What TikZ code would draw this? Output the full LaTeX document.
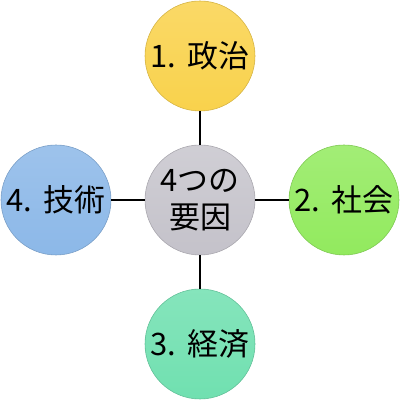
\documentclass[tikz,border=0pt]{standalone}
\usepackage{fontspec}
\setmainfont{Noto Sans CJK JP}
\usetikzlibrary{positioning}
\definecolor{polyellow}{HTML}{F9D24C}
\definecolor{socgreen}{HTML}{92EA5E}
\definecolor{ecoteal}{HTML}{70E0B0}
\definecolor{techblue}{HTML}{8CB8E8}
\definecolor{coregray}{HTML}{C4C2CA}
\tikzset{
    factor/.style={
        circle,
        minimum size=2.75cm,
        inner sep=0pt,
        align=center,
        font=\fontsize{22}{26}\selectfont
    },
    link/.style={
        line width=1.1pt,
        black
    }
}

\begin{document}
\begin{tikzpicture}

      \useasboundingbox (0,0) rectangle (10,10);

      \node[factor, top color=coregray!80, bottom color=coregray, draw=coregray!85!black] (core) at (5,5) {4つの\\要因};
      \node[factor, top color=polyellow!85, bottom color=polyellow, draw=polyellow!85!black] (pol) at (5,8.6) {1.\hspace{0.35em}政治};
      \node[factor, top color=socgreen!85, bottom color=socgreen, draw=socgreen!85!black] (soc) at (8.6,5) {2.\hspace{0.35em}社会};
      \node[factor, top color=ecoteal!85, bottom color=ecoteal, draw=ecoteal!85!black] (eco) at (5,1.4) {3.\hspace{0.35em}経済};
      \node[factor, top color=techblue!85, bottom color=techblue, draw=techblue!85!black] (tech) at (1.4,5) {4.\hspace{0.35em}技術};

      \draw[link] (core)--(pol);
      \draw[link] (core)--(soc);
      \draw[link] (core)--(eco);
      \draw[link] (core)--(tech);

\end{tikzpicture}
\end{document}
